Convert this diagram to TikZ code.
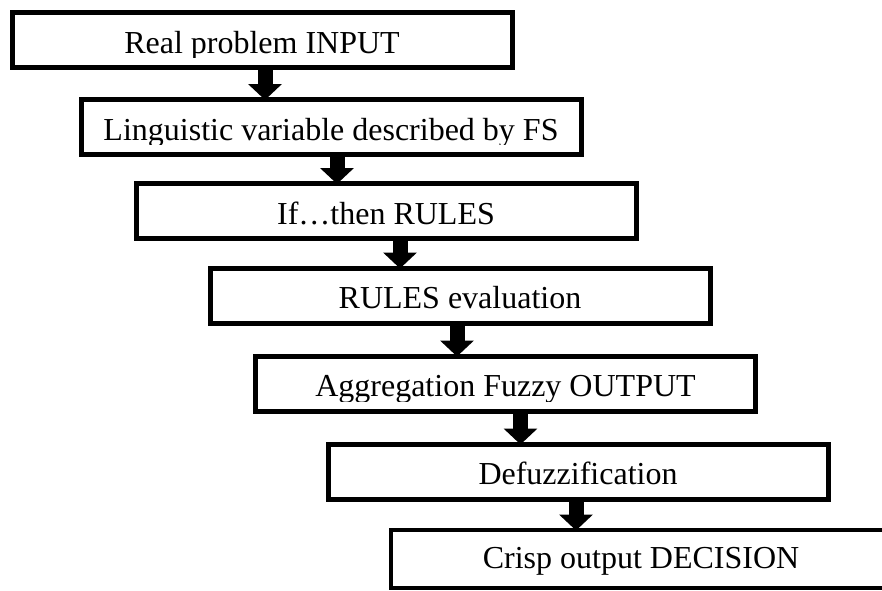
\documentclass[tikz,border=0pt]{standalone}
\usepackage{fontspec}
\setmainfont{Liberation Serif}
\usetikzlibrary{arrows.meta,positioning,calc}

\begin{document}
\begin{tikzpicture}[x=1pt, y=-1pt,
  stage/.style={rectangle, draw, line width=5pt, minimum width=500pt,
    minimum height=55pt, inner sep=0pt},
  caption/.style={anchor=base, inner sep=0pt, font=\fontsize{32}{38}\selectfont},
  flow/.style={line width=15pt, -{Triangle[width=33pt,length=16pt]}, shorten >=-3pt}
]
\useasboundingbox (0,0) rectangle (882,590);

% Stages
\node[stage] (s1) at (262,40)      {};
\node[stage] (s2) at (331,127)     {};
\node[stage] (s3) at (386,211)     {};
\node[stage] (s4) at (460,295.5)   {};
\node[stage] (s5) at (505.5,383.5) {};
\node[stage] (s6) at (578,471.5)   {};
\node[stage, line width=4pt, minimum height=58pt] (s7) at (641,558.5) {};

% Captions (cut off just under the baseline)
\foreach \n/\txt in {1/Real problem INPUT, 2/Linguistic variable described by FS,
    3/If…then RULES, 4/RULES evaluation, 5/Aggregation Fuzzy OUTPUT,
    6/Defuzzification} {
  \begin{scope}
    \clip (s\n.north west) rectangle ([yshift=12.5pt]s\n.south east);
    \node[caption] (t\n) at ([yshift=-13pt]s\n.center) {\txt};
  \end{scope}
}
\node[caption] (t7) at ([yshift=-10pt]s7.center) {Crisp output DECISION};

% Arrows
\draw[flow] ($(s1.south)+(3,0)$)  -- ($(s1.south |- s2.north)+(3,0)$);
\draw[flow] ($(s2.south)+(6,0)$)  -- ($(s2.south |- s3.north)+(6,0)$);
\draw[flow] ($(s3.south)+(14,0)$) -- ($(s3.south |- s4.north)+(14,0)$);
\draw[flow] ($(s4.south)+(-3,0)$) -- ($(s4.south |- s5.north)+(-3,0)$);
\draw[flow] ($(s5.south)+(15,0)$) -- ($(s5.south |- s6.north)+(15,0)$);
\draw[flow] ($(s6.south)+(-2,0)$) -- ($(s6.south |- s7.north)+(-2,0)$);

\end{tikzpicture}
\end{document}
